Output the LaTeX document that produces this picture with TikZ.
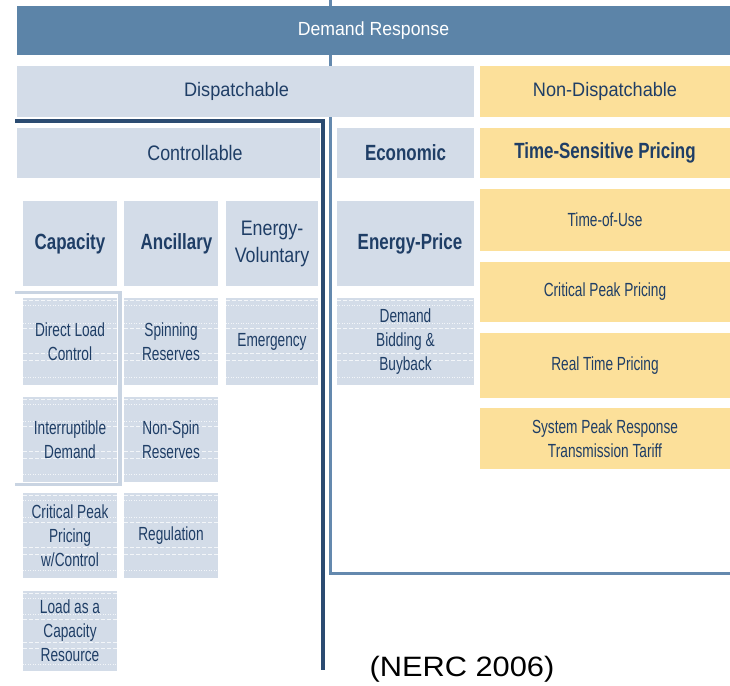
\documentclass[tikz,border=0pt]{standalone}
\usepackage{fontspec}
\setmainfont{Liberation Sans}
\newfontfamily\narrowsmall[FakeStretch=0.72]{Liberation Sans}
\newfontfamily\narrowbold[FakeStretch=0.77]{Liberation Sans}
\newfontfamily\narrowmid[FakeStretch=0.85]{Liberation Sans}
\newfontfamily\narrowtop[FakeStretch=0.93]{Liberation Sans}
\usetikzlibrary{calc}
\definecolor{barblue}{HTML}{5C84A8}
\definecolor{paleblue}{HTML}{D3DCE8}
\definecolor{bracketblue}{HTML}{C9D4E2}
\definecolor{paleyellow}{HTML}{FCE09A}
\definecolor{navy}{HTML}{1F3E66}
\definecolor{frameblue}{HTML}{2B4B71}
\definecolor{linkblue}{HTML}{6489AE}

\begin{document}
\begin{tikzpicture}[x=1pt,y=-1pt,
  cell/.style={rectangle, inner sep=0pt, text=navy, align=center},
  bluecell/.style={cell, fill=paleblue},
  yellowcell/.style={cell, fill=paleyellow},
  toptext/.style={font=\narrowtop\fontsize{19}{22}\selectfont},
  headtext/.style={font=\narrowtop\fontsize{19.5}{22}\selectfont},
  midtext/.style={font=\narrowmid\fontsize{21}{27}\selectfont},
  boldtext/.style={font=\narrowbold\bfseries\fontsize{22}{25}\selectfont},
  smalltext/.style={text=navy, align=center, inner sep=0pt, font=\narrowsmall\fontsize{19}{24}\selectfont},
  texdash/.style={white, opacity=0.75, line width=0.8pt, dash pattern=on 4pt off 2pt},
  texdot/.style={white, opacity=0.75, line width=0.8pt, dash pattern=on 1pt off 1.5pt},
  darkframe/.style={frameblue, line width=3.5pt},
  lightframe/.style={linkblue, line width=3pt},
]
\useasboundingbox[fill=white] (0,0) rectangle (730,685);

% connector running down the middle and along the bottom of the economic branch
\coordinate (linktop) at (330,0);
\coordinate (linkcorner) at (330,573);
\coordinate (linkend) at (730,573);
\draw[lightframe] (linktop) -- (linkcorner) -- (linkend);

% top levels
\node[cell, fill=barblue, text=white, toptext, minimum width=713pt, minimum height=49pt] (dr) at (373.5,30.5) {Demand Response};
\node[bluecell, minimum width=457pt, minimum height=51pt] (disp) at (245.5,91.5) {};
\node[cell, headtext] (disp-t) at ([xshift=-9pt]disp.center) {Dispatchable};
\node[yellowcell, headtext, minimum width=250pt, minimum height=51pt] (nondisp) at (605,91.5) {Non-Dispatchable};

% second level
\node[bluecell, minimum width=303pt, minimum height=50pt] (ctrl) at (168.5,153) {};
\node[cell, midtext] (ctrl-t) at ([xshift=26.5pt]ctrl.center) {Controllable};
\node[bluecell, boldtext, minimum width=137pt, minimum height=50pt] (econ) at (405.5,153) {Economic};
\node[yellowcell, boldtext, minimum width=250pt, minimum height=50pt] (tsp) at (605,153) {Time-Sensitive Pricing};

% third level
\node[bluecell, boldtext, minimum width=94pt, minimum height=85pt] (cap) at (70,243.5) {Capacity};
\node[bluecell, boldtext, minimum width=94pt, minimum height=85pt] (anc) at (171,243.5) {\hspace*{11pt}Ancillary};
\node[bluecell, midtext, minimum width=92pt, minimum height=85pt] (ev) at (272,243.5) {Energy-\\Voluntary};
\node[bluecell, boldtext, minimum width=137pt, minimum height=85pt] (ep) at (405.5,243.5) {\hspace*{9pt}Energy-Price};

% non-dispatchable programmes
\node[yellowcell, smalltext, minimum width=250pt, minimum height=62pt] (tou) at (605,220) {Time-of-Use};
\node[yellowcell, smalltext, minimum width=250pt, minimum height=60pt] (cpp) at (605,292) {Critical Peak Pricing};
\node[yellowcell, smalltext, minimum width=250pt, minimum height=65pt] (rtp) at (605,365.5) {Real Time Pricing};
\node[yellowcell, smalltext, minimum width=250pt, minimum height=61pt] (sprt) at (605,438.5) {System Peak Response\\Transmission Tariff};

% bracket grouping the load-control programmes
\coordinate (brA) at (15,292.5);
\coordinate (brB) at (120,292.5);
\coordinate (brC) at (120,484.5);
\coordinate (brD) at (15,484.5);
\draw[bracketblue, line width=3.5pt] (brA) -- (brB) -- (brC) -- (brD);

% dispatchable programmes
\node[bluecell, minimum width=94pt, minimum height=87pt] (dlc) at (70,341.5) {};
\node[bluecell, minimum width=94pt, minimum height=87pt] (spin) at (171,341.5) {};
\node[bluecell, minimum width=92pt, minimum height=87pt] (emerg) at (272,341.5) {};
\node[bluecell, minimum width=137pt, minimum height=87pt] (dbb) at (405.5,341.5) {};
\node[bluecell, minimum width=94pt, minimum height=85pt] (intd) at (70,439.5) {};
\node[bluecell, minimum width=94pt, minimum height=85pt] (nspin) at (171,439.5) {};
\node[bluecell, minimum width=94pt, minimum height=85pt] (cppc) at (70,535.5) {};
\node[bluecell, minimum width=94pt, minimum height=85pt] (reg) at (171,535.5) {};
\node[bluecell, minimum width=94pt, minimum height=80pt] (lcr) at (70,631) {};

% pale rule texture on the programme cells
\foreach \n in {dlc,spin,emerg,dbb,intd,nspin,cppc,reg,lcr} {
  \foreach \f in {0.03,0.35,0.64,0.72}
    \draw[texdash] ($(\n.north west)!\f!(\n.south west)$) -- ($(\n.north east)!\f!(\n.south east)$);
  \foreach \f in {0.09,0.29,0.91}
    \draw[texdot] ($(\n.north west)!\f!(\n.south west)$) -- ($(\n.north east)!\f!(\n.south east)$);
}

\node[smalltext] (dlc-t) at (dlc.center) {Direct Load\\Control};
\node[smalltext] (spin-t) at (spin.center) {Spinning\\Reserves};
\node[smalltext] (emerg-t) at (emerg.center) {Emergency};
\node[smalltext] (dbb-t) at (dbb.center) {Demand\\Bidding \&\\Buyback};
\node[smalltext] (intd-t) at (intd.center) {Interruptible\\Demand};
\node[smalltext] (nspin-t) at (nspin.center) {Non-Spin\\Reserves};
\node[smalltext] (cppc-t) at (cppc.center) {Critical Peak\\Pricing\\w/Control};
\node[smalltext] (reg-t) at (reg.center) {Regulation};
\node[smalltext] (lcr-t) at (lcr.center) {Load as a\\Capacity\\Resource};

% frame around the controllable branch
\coordinate (frA) at (15,121);
\coordinate (frB) at (323,121);
\coordinate (frC) at (323,670);
\draw[darkframe] (frA) -- (frB) -- (frC);

% source
\node[inner sep=0pt, font=\fontsize{28}{30}\selectfont, xscale=1.1] (src) at (462,669) {(NERC 2006)};
\end{tikzpicture}
\end{document}
